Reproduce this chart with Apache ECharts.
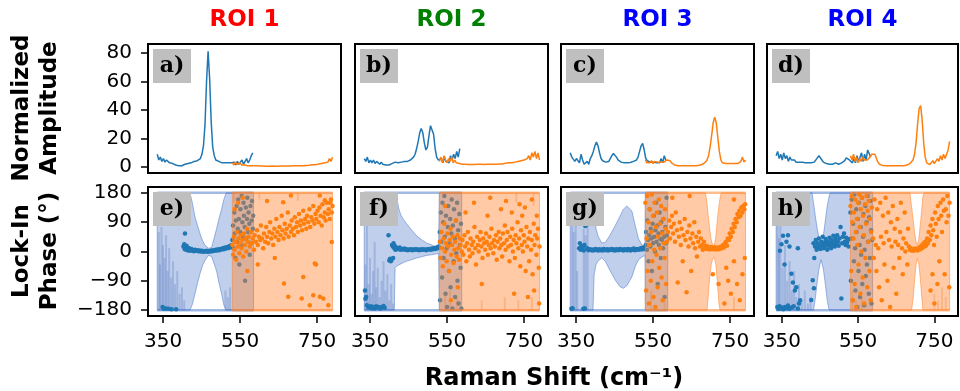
<!DOCTYPE html>
<html>
<head>
<meta charset="utf-8">
<script src="https://cdn.jsdelivr.net/npm/echarts@6.0.0/dist/echarts.min.js"></script>
<style>
  html, body { margin: 0; padding: 0; background: #fff; }
  #chart { width: 960px; height: 391px; }
</style>
</head>
<body>
<div id="chart"></div>
<script>
// axis ticks and titles
const xTicks = [350, 550, 750];
const ampTicks = [0, 20, 40, 60, 80];
const phaseTicks = [-180, -90, 0, 90, 180];
const roiTitles = ['ROI 1', 'ROI 2', 'ROI 3', 'ROI 4'];
const roiColors = ['#ff0000', '#008000', '#0000ff', '#0000ff'];
const ampTags = ['a)', 'b)', 'c)', 'd)'];
const phaseTags = ['e)', 'f)', 'g)', 'h)'];

// Raman shift grids of the two spectral windows
const blueX = [335,339,343,347,351,355,359,363,367,371,375,379,383,387,391,395,399,403,407,411,415,419,423,427,431,435,439,443,447,451,455,459,463,467,471,475,479,483,487,491,495,499,503,507,511,515,519,523,527,531,535,539,543,547,551,555,559,563,567,571,575,579,583];
const orangeX = [530,534,538,542,546,550,554,558,562,566,570,574,578,582,586,590,594,598,602,606,610,614,618,622,626,630,634,638,642,646,650,654,658,662,666,670,674,678,682,686,690,694,698,702,706,710,714,718,722,726,730,734,738,742,746,750,754,758,762,766,770,774,778,782,786,790];

// normalized amplitude, one array per ROI and window
const ampBlue1 = [9,5,7,4,6,3.5,5,4,3,4, 2.5,2,1.5,1,1,0.8,1,1.5,2,2, 2.5,3,3,3.5,4,4,4.5,5,6,9, 15,30,60,81,62,32,14,8,5,4.5, 4,3.5,3,3,3,2.5,3,2.5,3,2, 3.5,1.5,4,2,3,5,2,4,6,3, 5,8,10];
const ampOrange1 = [3,1.5,3.5,2,1,3,1.5,2.5,1.5,2, 1,1.5,1,1.2,1,1,0.9,1,0.8,0.9, 0.8,0.8,0.7,0.8,0.7,0.7,0.8,0.7,0.7,0.8, 0.7,0.7,0.8,0.7,0.8,0.8,0.8,0.9,0.8,0.9, 0.9,1,0.9,1,1,1.1,1,1.2,1.2,1.4, 1.3,1.5,1.6,1.8,1.6,2,2.2,2,2.6,2.3, 3,2.5,3.5,6,4,7];
const ampBlue2 = [6,4,7,3,5,3,5,2.5,4,3, 2,3.5,2,2,1.5,2,1.5,2,2.5,3, 3.5,3.5,3,3.5,3.5,3.5,4,4,4,4.5, 5,5.5,7,9,13,18,24,27,24,17, 12,14,22,29,30,23,13,7,5,4, 6,3,7,4,5,3,8,5,9,6, 11,7,13];
const ampOrange2 = [4,7,3,8,5,3,6,4,7,3, 5,3,4,2.5,3,2,2.5,2,2,1.8, 2,1.8,2,1.8,2,2,1.8,2,2,1.8, 2,2,2.2,2,2.5,2,2.2,2,2.5,2.2, 2.5,2.2,2.5,2.8,2.5,3,2.5,3,2.8,3.5, 3,4,3,4.5,3.5,5,4,6,8,5, 10,7,11,6,10,5];
const ampBlue3 = [10,7,8,4,6,7,3,9,5,2, 3,4,2,6,8,11,15,17.5,15,10, 6,4.5,4,3.5,3.5,4,6,8,9.5,9, 7,5,4,3.5,3,3,3,3,3,3.2, 3.5,4,4.5,5,7,11,15,16.5,12,6, 4.5,4,3.5,4,3.5,3.5,3,4,3,6, 3,8,5];
const ampOrange3 = [5,3,4,3,4.5,2.5,4,3,3.5,2.5, 3.5,3,3.5,4,5,5.5,4.5,3,2,1.5, 1.2,1,1,1,0.9,0.9,1,1,1,1, 1,1,1,1,1.2,1.3,1.5,2,2.5,3.5, 5,8,14,22,31,35,31,21,11,5, 3,2.5,2.5,2,2.5,2,2.5,3,2.5,3, 2.5,3.5,4,7,3.5,5];
const ampBlue4 = [8,11,6,9,5,10,6,8,4,7, 5,4,5,3.5,4,3.5,3,3.5,3,3, 2.5,3,2.5,3,3,3.5,4.5,6.5,8,7, 5,3.5,3,2.5,2,2,1.8,2,2.2,3, 2,2,2.5,3,3,4.5,6.5,7.5,5,4, 3,6,3,8,4,5,10,4,9,5, 12,13,7];
const ampOrange4 = [8,5,9,4,7,3,6,4,7,5, 6,5,6,7.5,9,10,9,6,3.5,2, 1.5,1.2,1,1,1,1,1,1,1,1, 1,1,1,1,1,1,1.2,1.5,2,2.5, 3.5,5,9,17,30,41,43,33,17,7, 3,2,1.8,3,4.5,2.5,2.5,6,4,8, 5,9,6,9,12,18];

// lock-in phase uncertainty bands: [shift, lower, upper]
const bandBlue1 = [[335,-180,180],[420,-180,180],[426,-163,150],[433,-130,106],[440,-95,78],[446,-68,55],[452,-45,35],[459,-27,19],[468,-12,10],[476,-15,12],[482,-35,38],[489,-60,70],[495,-95,100],[502,-130,130],[508,-165,160],[514,-180,180],[585,-180,180]];
const bandOrange1 = [[530,-180,180],[790,-180,180]];
const bandBlue2 = [[335,-180,180],[413,-180,180],[415,-50,180],[419,-45,170],[424,-42,135],[430,-38,112],[437,-34,98],[445,-30,85],[458,-25,66],[471,-20,48],[484,-16,36],[497,-12,26],[510,-10,20],[519,-8,15],[528,-6,10],[530,-180,180],[588,-180,180]];
const bandOrange2 = [[530,-180,180],[790,-180,180]];
const bandBlue3 = [[335,-180,180],[394,-180,180],[397,-70,120],[402,-40,70],[408,-28,45],[417,-20,26],[426,-30,28],[438,-58,50],[452,-88,80],[464,-108,108],[473,-113,130],[482,-105,140],[495,-78,124],[504,-45,78],[512,-26,40],[521,-17,20],[529,-12,14],[530,-180,180],[588,-180,180]];
const bandOrange3 = [[530,-180,180],[686,-180,180],[690,-180,150],[693,-140,110],[697,-80,70],[701,-40,35],[705,-22,20],[709,-18,20],[713,-40,45],[717,-95,100],[721,-160,140],[724,-180,165],[727,-180,180],[790,-180,180]];
const bandBlue4 = [[335,-180,180],[429,-180,180],[433,-180,150],[437,-150,115],[442,-100,75],[447,-55,45],[453,-25,30],[459,-55,50],[464,-100,95],[469,-150,140],[474,-180,170],[477,-180,180],[588,-180,180]];
const bandOrange4 = [[530,-180,180],[686,-180,180],[690,-180,140],[694,-150,100],[698,-90,60],[702,-40,30],[705,-22,20],[709,-35,35],[713,-80,80],[717,-140,130],[720,-180,170],[723,-180,180],[790,-180,180]];

// wrapped parts of the bands: [shift, from, to]
const stripesBlue1 = [[339,-180,60],[342,-180,-40],[346,-180,75],[350,-180,20],[354,-180,-20],[358,-180,50],[362,-180,-60],[366,-180,10],[371,-180,-80],[376,-180,-30],[381,-180,-100],[387,-180,-60],[393,-180,-130],[399,-180,-110],[405,-180,-150],[512,-180,-120],[518,-180,-140],[524,-180,-110]];
const stripesOrange1 = [[534,150,180],[600,160,180],[700,155,180]];
const stripesBlue2 = [[338,-180,-40],[342,-180,80],[346,-180,-100],[350,-180,-20],[354,-180,-130],[358,-180,-60],[362,-180,30],[366,-180,-110],[370,-180,-50],[375,-180,-140],[380,-180,-90],[385,-180,-30],[390,-180,-120],[395,-180,-70],[400,-180,-150],[405,-180,-100],[410,-180,-160]];
const stripesOrange2 = [[545,-180,-130],[558,-180,-120],[575,-180,-140],[640,-180,-150],[700,-180,-140],[735,-180,-150],[770,-180,-140],[730,150,180],[775,140,180]];
const stripesBlue3 = [[340,-180,90],[344,-180,60],[349,-180,80],[353,-180,-60],[370,-180,70],[375,-180,50],[380,-180,85]];
const stripesOrange3 = [[545,-180,-120],[580,-180,-150],[760,-180,-140]];
const stripesBlue4 = [[339,-180,100],[342,-180,40],[346,-180,120],[352,-180,-50],[358,-180,20],[364,-180,-90],[370,-180,-30],[376,-180,-120],[382,-180,-60],[388,-180,-140],[395,-180,-100],[402,-180,-150],[410,-180,-120],[418,-180,-160],[425,-180,-140]];
const stripesOrange4 = [[535,-180,-120],[545,-180,-150],[560,-180,-140],[750,-180,-130],[760,-180,-150],[770,-180,-110],[780,-180,-140]];

// lock-in phase points: [shift, phase]
const bluePh1 = [[349,-170],[352,-176],[358,-175],[364,-176],[372,-177],[384,-177],[407,55],
  [403,15],[405,22],[406,8],[408,12],[410,5],[411,18],[413,9],[415,3],[417,11],[419,6],[421,2],[424,8],[427,4],[430,1],[433,5],[436,2],[439,4],[442,1],[445,3],[448,0],[451,2],[454,-1],[457,1],[460,0],[463,2],[466,-1],[469,1],[472,0],[475,3],[478,1],[481,4],[484,2],[487,5],[490,3],[493,7],[496,4],[499,8],[502,6],[505,10],[508,7],[511,12],[514,9],[517,14],[520,11],[523,17],[526,13],[528,20],
  [530,35],[532,80],[533,10],[535,120],[536,55],[538,-20],[539,95],[541,140],[542,30],[544,70],[545,160],[547,100],[548,-40],[550,60],[551,130],[553,20],[554,170],[556,90],[557,45],[559,150],[560,110],[562,75],[563,-90],[565,135],[566,40],[568,100],[569,165],[571,60],[572,120],[574,85],[575,-10],[577,140],[578,25],[580,95],[581,155],[583,70],[584,110]];
const orangePh1 = [[530,20],[532,-10],[534,45],[536,5],[538,30],[540,-25],[542,60],[544,15],[546,40],[548,-5],[550,25],[552,50],[554,10],[556,35],[558,-15],[560,55],[562,20],[564,40],[566,0],[568,70],[570,30],[572,45],[575,15],[578,60],[580,25],[583,40],[586,5],[588,50],[591,30],[594,65],[596,20],[599,45],[602,35],[604,80],[607,40],[610,10],[612,55],[615,30],[618,75],[620,45],[623,25],[626,60],[628,90],[631,40],[634,55],[636,20],[639,70],[642,45],[644,100],[647,60],[650,35],[652,75],[655,50],[658,110],[660,65],[663,40],[666,85],[668,55],[671,70],[674,120],[676,45],[679,80],[682,60],[684,95],[687,70],[690,50],[692,105],[695,75],[698,90],[700,60],[703,115],[706,80],[708,95],[711,65],[714,125],[716,85],[719,100],[722,70],[724,110],[727,90],[730,130],[732,75],[735,105],[738,95],[740,140],[743,85],[746,115],[748,100],[751,125],[754,90],[756,135],[759,110],[762,80],[764,145],[767,105],[770,120],[772,95],[775,150],[778,115],[780,130],[783,100],[786,160],[788,120],[790,140],
  [536,130],[545,150],[557,165],[569,-60],[596,-40],[620,155],[640,-20],[662,151],[664,-98],[675,-139],[682,172],[710,-144],[714,-78],[731,-165],[740,-134],[744,-37],[747,-40],[757,-139],[757,172],[766,-144],[770,157],[779,-165],[783,150],[788,29]];
const bluePh2 = [[337,-120],[338,-145],[340,-140],[342,-165],[345,-170],[349,-172],[352,-168],[355,-174],[359,-170],[362,-175],[366,-168],[370,-172],[373,-170],[377,-175],[381,-171],[385,-167],[388,-173],
  [398,50],[400,-28],[402,-22],[404,-30],[406,-25],[407,20],[409,15],[410,-20],[411,25],[413,10],[414,18],[416,5],[418,12],[419,8],[421,10],[424,7],[427,12],[430,5],[433,8],[436,6],[439,9],[442,5],[445,7],[448,4],[451,6],[454,5],[457,7],[460,4],[463,6],[466,5],[469,7],[472,5],[475,6],[478,4],[481,6],[484,5],[487,7],[490,5],[493,6],[496,4],[499,7],[502,6],[505,8],[508,5],[511,9],[514,7],[517,11],[520,8],[523,12],[526,10],[528,15],
  [531,60],[532,-150],[534,120],[535,30],[537,-80],[538,150],[540,90],[541,-20],[543,170],[544,45],[546,-130],[547,110],[549,10],[550,-170],[552,75],[553,140],[555,-60],[556,25],[558,100],[559,-110],[561,55],[562,160],[564,-175],[565,80],[567,-30],[568,130],[570,40],[571,-140],[573,95],[574,-5],[576,150],[577,-90],[579,65],[580,-160],[582,115],[583,20],[585,-50],[586,85],[587,-175]];
const orangePh2 = [[531,30],[533,-20],[535,60],[537,10],[539,-45],[541,40],[543,85],[545,0],[547,25],[549,-30],[551,55],[553,15],[555,-60],[557,35],[559,70],[561,-10],[563,20],[565,45],[567,-35],[569,5],[571,30],[573,95],[575,-15],[577,50],[579,10],[581,-25],[583,40],[585,20],
  [588,0],[590,35],[592,-10],[595,50],[597,15],[600,-30],[602,25],[604,60],[607,5],[609,-15],[611,40],[614,20],[616,-5],[618,30],[621,75],[623,10],[625,-40],[628,45],[630,20],[632,0],[635,35],[637,60],[639,15],[642,-20],[644,40],[646,25],[649,5],[651,55],[653,30],[656,-10],[658,20],[660,45],[663,10],[665,70],[667,25],[670,-5],[672,35],[674,15],[677,50],[679,-25],[681,30],[684,60],[686,10],[688,40],[691,20],[693,-15],[695,55],[698,25],[700,80],[702,5],[705,35],[707,60],[709,15],[712,-30],[714,45],[716,20],[719,70],[721,0],[723,35],[726,-20],[728,50],[730,25],[733,90],[735,10],[737,40],[740,-45],[742,65],[744,20],[747,0],[749,50],[751,30],[754,-60],[756,75],[758,15],[761,40],[763,-30],[765,60],[768,5],[770,35],[772,-70],[775,85],[777,20],[779,50],[782,-10],[784,40],[786,70],[788,-50],[790,15],
  [545,140],[560,-150],[578,-110],[598,120],[620,150],[640,-100],[655,110],[662,165],[690,130],[703,155],[718,120],[724,-130],[738,145],[745,110],[752,135],[760,-140],[770,160],[776,-120],[783,110],[789,-160]];
const bluePh3 = [[338,-176],[341,-174],[369,-176],[373,-175],[340,95],[343,85],
  [358,10],[360,25],[362,5],[364,18],[366,8],[368,15],[370,3],[372,20],[374,78],[377,82],[379,10],[381,6],
  [383,4],[386,7],[389,5],[392,3],[395,6],[398,4],[401,8],[404,5],[407,3],[410,7],[413,4],[416,6],[419,3],[422,8],[425,5],[428,4],[431,7],[434,3],[437,6],[440,5],[443,8],[446,4],[449,6],[452,3],[455,7],[458,5],[461,4],[464,8],[467,5],[470,6],[473,3],[476,7],[479,5],[482,4],[485,8],[488,6],[491,3],[494,7],[497,5],[500,9],[503,4],[506,6],[509,8],[512,5],[515,7],[518,10],[521,6],[524,12],[527,8],
  [531,20],[532,60],[534,5],[535,95],[537,35],[538,-30],[540,50],[541,130],[543,15],[544,70],[546,40],[547,-60],[549,85],[550,25],[552,110],[553,45],[555,0],[556,65],[558,150],[559,30],[561,80],[562,-100],[564,55],[565,20],[567,120],[568,40],[570,-20],[571,90],[573,35],[574,60],[576,10],[577,100],[579,45],[580,-140],[582,75],[583,25],[585,165],[586,50]];
const orangePh3 = [[530,150],[532,-120],[533,40],[535,170],[536,-60],[538,90],[539,-160],[541,20],[542,130],[544,-90],[545,60],[547,175],[548,-30],[550,110],[551,-140],[553,5],[554,150],[556,-170],[557,75],[559,-10],[560,120],[562,-110],[563,45],[565,160],[566,-50],[568,85],[569,10],[571,140],[572,-80],[574,55],[575,-150],[577,100],[578,25],[580,-20],[581,130],[583,70],[584,-100],[586,30],
  [589,60],[592,95],[594,40],[597,75],[599,110],[602,55],[604,85],[607,30],[609,120],[612,65],[614,-95],[617,45],[619,90],[622,20],[624,70],[627,-30],[629,50],[632,100],[634,35],[637,-125],[639,60],[642,15],[644,80],[647,40],[649,-60],[652,55],[654,25],[657,90],[659,10],[662,45],[664,-15],[667,30],[669,60],[672,15],[674,40],[677,20],[679,5],[682,30],[684,12],
  [687,18],[689,8],[691,15],[693,10],[695,12],[697,6],[699,14],[701,9],[703,12],[705,7],[707,11],[709,8],[711,13],[713,6],[715,10],[717,9],[719,12],[721,7],[723,11],[725,14],[727,9],[729,16],
  [732,20],[734,12],[737,25],[739,30],[742,18],[744,40],[747,35],[749,55],[752,45],[754,70],[757,60],[759,85],[762,75],[764,100],[767,90],[769,115],[772,105],[774,125],[777,110],[779,135],[782,120],[784,140],[787,130],[789,145],
  [600,165],[645,170],[705,-70],[740,-50],[745,-90],[752,-130],[760,-30],[768,-100],[775,-150],[782,-70],[788,-20],[760,160],[720,-100],[735,-160]];
const bluePh4 = [[338,-170],[341,-176],[344,-168],[347,-175],[350,-172],[354,-177],[358,-170],[362,-174],[366,-166],[370,-176],[376,-172],[381,-168],[392,-175],[395,-160],[398,-150],
  [345,2],[349,22],[353,48],[357,-40],[362,30],[366,50],[370,15],[375,-68],[379,-95],[384,-120],[388,-110],[392,10],
  [427,-149],[431,-88],[434,-113],[435,-20],[433,25],
  [437,15],[439,35],[441,5],[443,25],[445,12],[447,40],[449,18],[451,8],[453,30],[455,20],[457,45],[459,10],[461,28],[463,15],[465,38],[467,22],[469,5],[471,30],[473,18],[475,42],[477,25],[479,10],[481,35],[483,20],[485,48],[487,28],[489,15],[491,38],[493,22],[495,50],[497,30],[499,18],[501,40],[504,75],[506,-144],[508,25],[510,45],[513,55],[515,30],[517,20],[519,42],[521,28],[523,35],[525,15],[527,38],
  [530,120],[531,-90],[533,160],[534,40],[536,-150],[537,85],[539,-30],[540,175],[542,10],[543,-120],[545,130],[546,60],[548,-170],[549,100],[551,-60],[552,150],[554,20],[555,-140],[557,75],[558,-10],[560,165],[561,-100],[563,45],[564,115],[566,-165],[567,5],[569,140],[570,-75],[572,90],[573,-40],[575,170],[576,30],[578,-130],[579,105],[581,-20],[582,155],[584,65],[585,-160],[587,35]];
const orangePh4 = [[530,140],[532,-60],[533,170],[535,90],[536,-150],[538,40],[539,120],[541,-100],[542,160],[544,60],[545,-170],[547,100],[548,20],[550,150],[551,-40],[553,175],[554,75],[556,-130],[557,130],[559,0],[560,165],[562,-80],[563,110],[565,50],[566,-160],[568,145],[569,-20],[571,85],[572,170],[574,-110],[575,125],[577,30],[578,155],[580,-60],[581,100],[583,-150],[584,60],[586,135],
  [589,40],[591,-20],[593,160],[596,20],[598,-60],[600,130],[603,10],[605,-110],[608,150],[610,45],[612,-150],[615,110],[617,25],[619,-40],[622,165],[624,60],[627,-90],[629,120],[631,35],[634,-170],[636,90],[638,15],[641,140],[643,-50],[646,70],[648,30],[650,-130],[653,100],[655,20],[658,-20],[660,60],[662,150],[665,10],[667,-70],[669,40],[672,120],[674,0],[676,25],[679,-40],[681,70],[683,15],
  [686,5],[688,10],[690,3],[692,8],[694,2],[696,6],[698,4],[700,9],[702,5],[704,7],[706,3],[708,8],[710,12],[712,6],[714,15],[716,9],[718,20],[720,12],[722,25],[724,15],[726,30],[728,18],
  [731,40],[733,25],[735,60],[738,35],[740,80],[742,50],[745,100],[747,65],[749,20],[752,120],[754,85],[756,45],[759,140],[761,100],[763,-30],[766,150],[768,110],[770,60],[773,160],[775,125],[777,-70],[780,130],[782,90],[784,170],[787,110],[789,-110],[790,150],
  [740,-120],[750,-160],[758,-100],[745,-70]];

const ampBlue = [ampBlue1, ampBlue2, ampBlue3, ampBlue4];
const ampOrange = [ampOrange1, ampOrange2, ampOrange3, ampOrange4];
const bandBlue = [bandBlue1, bandBlue2, bandBlue3, bandBlue4];
const bandOrange = [bandOrange1, bandOrange2, bandOrange3, bandOrange4];
const stripesBlue = [stripesBlue1, stripesBlue2, stripesBlue3, stripesBlue4];
const stripesOrange = [stripesOrange1, stripesOrange2, stripesOrange3, stripesOrange4];
const bluePh = [bluePh1, bluePh2, bluePh3, bluePh4];
const orangePh = [orangePh1, orangePh2, orangePh3, orangePh4];

const BLUE = '#1f77b4';
const ORANGE = '#ff7f0e';
const blueFill = 'rgba(70,115,200,0.34)';
const blueEdge = 'rgba(70,115,200,0.5)';
const blueStripe = 'rgba(60,100,180,0.25)';
const orangeFill = 'rgba(255,135,50,0.44)';
const orangeEdge = 'rgba(255,135,50,0.55)';
const orangeStripe = 'rgba(230,110,30,0.22)';

const colLeft = [148, 355, 561, 767];
const colWidth = [193, 193, 193, 191];
const rowTop = [44, 187];
const rowHeight = 129;
const FONT = '"DejaVu Sans", sans-serif';

const chart = echarts.init(document.getElementById('chart'));

function zip(xs, ys) {
  const n = Math.min(xs.length, ys.length);
  const out = [];
  for (let i = 0; i < n; i++) out.push([xs[i], ys[i]]);
  return out;
}
const minus = v => String(v).replace('-', '\u2212');

function bandSeries(idx, band, fill, edge, z) {
  return {
    type: 'custom', xAxisIndex: idx, yAxisIndex: idx, data: band, silent: true, z: z,
    renderItem: function (params, api) {
      if (params.dataIndex !== 0) return null;
      const upper = band.map(d => api.coord([d[0], d[2]]));
      const lower = band.map(d => api.coord([d[0], d[1]])).reverse();
      const x0 = band[0][0], x1 = band[band.length - 1][0];
      return {
        type: 'group',
        children: [
          { type: 'polygon', shape: { points: upper.concat(lower) }, style: { fill: fill, stroke: edge, lineWidth: 1 } },
          { type: 'polyline', shape: { points: [api.coord([x0, 180]), api.coord([x1, 180])] }, style: { stroke: edge, lineWidth: 2.5, fill: null } },
          { type: 'polyline', shape: { points: [api.coord([x0, -180]), api.coord([x1, -180])] }, style: { stroke: edge, lineWidth: 2.5, fill: null } }
        ]
      };
    }
  };
}

function stripeSeries(idx, stripes, color, z) {
  return {
    type: 'custom', xAxisIndex: idx, yAxisIndex: idx, data: stripes, silent: true, z: z,
    renderItem: function (params, api) {
      const p0 = api.coord([api.value(0), api.value(1)]);
      const p1 = api.coord([api.value(0), api.value(2)]);
      return {
        type: 'rect',
        shape: { x: p0[0] - 1, y: Math.min(p0[1], p1[1]), width: 2, height: Math.abs(p1[1] - p0[1]) },
        style: { fill: color }
      };
    }
  };
}

const grids = [], xAxes = [], yAxes = [], series = [], graphics = [];

for (let row = 0; row < 2; row++) {
  for (let col = 0; col < 4; col++) {
    const idx = row * 4 + col;
    grids.push({
      left: colLeft[col], top: rowTop[row], width: colWidth[col], height: rowHeight,
      show: true, borderColor: '#000', borderWidth: 2, backgroundColor: '#fff'
    });
    xAxes.push({
      type: 'value', gridIndex: idx, min: 311, max: 812, position: 'bottom',
      axisLine: { show: false, onZero: false }, splitLine: { show: false },
      axisTick: { show: row === 1, customValues: xTicks, length: 7, lineStyle: { color: '#000', width: 1.5 } },
      axisLabel: { show: row === 1, customValues: xTicks, color: '#000', fontSize: 20, fontFamily: FONT, margin: 16 }
    });
    const ticks = row === 0 ? ampTicks : phaseTicks;
    yAxes.push({
      type: 'value', gridIndex: idx, position: 'left',
      min: row === 0 ? -4.1 : -198, max: row === 0 ? 86.1 : 198,
      axisLine: { show: false, onZero: false }, splitLine: { show: false },
      axisTick: { show: col === 0, customValues: ticks, length: 7, lineStyle: { color: '#000', width: 1.5 } },
      axisLabel: { show: col === 0, customValues: ticks, color: '#000', fontSize: 20, fontFamily: FONT, margin: 16, formatter: minus }
    });

    if (row === 0) {
      series.push({
        type: 'line', xAxisIndex: idx, yAxisIndex: idx, data: zip(blueX, ampBlue[col]), z: 2,
        showSymbol: false, lineStyle: { color: BLUE, width: 1.5 }, silent: true
      });
      series.push({
        type: 'line', xAxisIndex: idx, yAxisIndex: idx, data: zip(orangeX, ampOrange[col]), z: 3,
        showSymbol: false, lineStyle: { color: ORANGE, width: 1.5 }, silent: true
      });
    } else {
      series.push(bandSeries(idx, bandBlue[col], blueFill, blueEdge, 1));
      series.push(stripeSeries(idx, stripesBlue[col], blueStripe, 1));
      series.push({
        type: 'scatter', xAxisIndex: idx, yAxisIndex: idx, data: bluePh[col], z: 2,
        symbolSize: 4.5, itemStyle: { color: BLUE, opacity: 1 }, silent: true
      });
      series.push(bandSeries(idx, bandOrange[col], orangeFill, orangeEdge, 3));
      series.push(stripeSeries(idx, stripesOrange[col], orangeStripe, 3));
      series.push({
        type: 'scatter', xAxisIndex: idx, yAxisIndex: idx, data: orangePh[col], z: 4,
        symbolSize: 4.5, itemStyle: { color: ORANGE, opacity: 1 }, silent: true
      });
    }

    // panel tag in a grey box
    const tag = row === 0 ? ampTags[col] : phaseTags[col];
    graphics.push({
      type: 'rect', z: 100, left: colLeft[col] + 5, top: rowTop[row] + 5,
      shape: { width: 38, height: 34 }, style: { fill: '#bfbfbf' }
    });
    graphics.push({
      type: 'text', z: 101, x: colLeft[col] + 24, y: rowTop[row] + 22,
      style: { text: tag, font: 'bold 22px "DejaVu Serif", serif', fill: '#000', textAlign: 'center', textVerticalAlign: 'middle' }
    });
  }
}

// column titles
for (let col = 0; col < 4; col++) {
  graphics.push({
    type: 'text', z: 100, x: colLeft[col] + colWidth[col] / 2, y: 20,
    style: { text: roiTitles[col], font: 'bold 23px ' + FONT, fill: roiColors[col], textAlign: 'center', textVerticalAlign: 'middle' }
  });
}
// row labels and shared x label
graphics.push({
  type: 'text', z: 100, x: 36, y: 108, rotation: Math.PI / 2,
  style: { text: 'Normalized\nAmplitude', font: 'bold 23px ' + FONT, fill: '#000', textAlign: 'center', textVerticalAlign: 'middle', lineHeight: 28 }
});
graphics.push({
  type: 'text', z: 100, x: 36, y: 251, rotation: Math.PI / 2,
  style: { text: 'Lock-In\nPhase (\u00b0)', font: 'bold 23px ' + FONT, fill: '#000', textAlign: 'center', textVerticalAlign: 'middle', lineHeight: 28 }
});
graphics.push({
  type: 'text', z: 100, x: 554, y: 379,
  style: { text: 'Raman Shift (cm\u207b\u00b9)', font: 'bold 24px ' + FONT, fill: '#000', textAlign: 'center', textVerticalAlign: 'middle' }
});

chart.setOption({
  animation: false,
  backgroundColor: '#fff',
  grid: grids,
  xAxis: xAxes,
  yAxis: yAxes,
  series: series,
  graphic: graphics
});
</script>
</body>
</html>
